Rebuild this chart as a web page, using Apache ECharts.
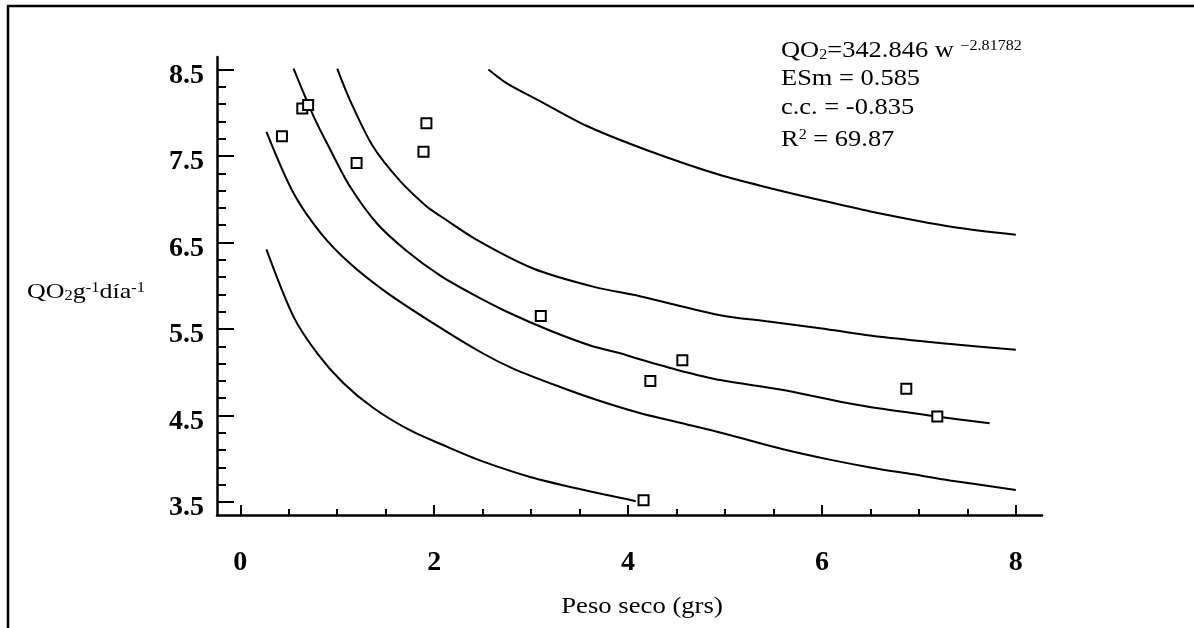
<!DOCTYPE html>
<html><head><meta charset="utf-8">
<script src="https://cdn.jsdelivr.net/npm/echarts@6/dist/echarts.min.js"></script>
<style>html,body{margin:0;padding:0;background:#fff}#c{width:1194px;height:628px}</style>
</head><body><div id="c"></div>
<script>
// Confidence-band style curves
const curve1 = [[0.27,6.42],[0.55,5.64],[0.80,5.21],[1.06,4.88],[1.37,4.59],[1.75,4.33],[2.13,4.14],[2.5,3.97],[2.99,3.79],[3.5,3.65],[4.08,3.51]];
const curve2 = [[0.27,7.78],[0.55,7.07],[0.83,6.61],[1.13,6.26],[1.5,5.93],[2.0,5.56],[2.5,5.22],[2.82,5.04],[3.3,4.83],[3.68,4.68],[4.12,4.53],[4.6,4.40],[5.0,4.29],[5.6,4.11],[6.08,3.99],[6.5,3.90],[6.94,3.82],[7.32,3.75],[8.0,3.64]];
const curve3 = [[0.55,8.51],[0.76,7.95],[0.93,7.57],[1.13,7.15],[1.41,6.72],[1.72,6.40],[2.06,6.12],[2.4,5.90],[2.75,5.70],[3.2,5.48],[3.61,5.31],[3.92,5.22],[4.12,5.15],[4.5,5.03],[4.95,4.91],[5.57,4.80],[6.19,4.66],[6.6,4.58],[7.18,4.49],[7.73,4.41]];
const curve4 = [[1.0,8.51],[1.13,8.15],[1.37,7.61],[1.65,7.21],[1.92,6.92],[2.06,6.81],[2.44,6.53],[3.02,6.20],[3.64,5.99],[4.12,5.88],[4.95,5.66],[5.43,5.59],[5.98,5.51],[6.6,5.41],[7.3,5.33],[8.0,5.26]];
const curve5 = [[2.56,8.50],[2.75,8.34],[3.1,8.13],[3.57,7.85],[4.19,7.57],[4.95,7.28],[5.5,7.12],[5.91,7.01],[6.5,6.86],[7.35,6.68],[8.0,6.59]];
// Observed points
const pesoSeco = [0.43,0.64,0.70,1.20,1.89,1.92,3.10,4.16,4.23,4.56,6.87,7.19];
const qo2 = [7.73,8.05,8.09,7.42,7.55,7.88,5.65,3.52,4.90,5.14,4.81,4.49];
// Ticks
const xTickLabels = [0,2,4,6,8];
const xMinorTicks = [0.5,1,1.5,2.5,3,3.5,4.5,5,5.5,6.5,7,7.5];
const yTickLabels = [3.5,4.5,5.5,6.5,7.5,8.5];
const yMinorTicks = [3.7,3.9,4.1,4.3,4.7,4.9,5.1,5.3,5.7,5.9,6.1,6.3,6.7,6.9,7.1,7.3,7.7,7.9,8.1,8.3];

const SERIF = '"Liberation Serif","Times New Roman",serif';
const chart = echarts.init(document.getElementById('c'), null, {renderer:'canvas'});
const lineSeries = [curve1,curve2,curve3,curve4,curve5].map(c => ({
  type:'line', data:c, xAxisIndex:0, yAxisIndex:0, showSymbol:false, smooth:0.3,
  lineStyle:{color:'#000', width:2}, silent:true, z:2
}));
const X = {min:-0.24, max:8.27};
const Y = {min:3.35, max:8.645};
chart.setOption({
  animation:false,
  backgroundColor:'#fff',
  grid:{left:217, right:152, top:57, bottom:113},
  xAxis:[
    {type:'value', position:'bottom', min:X.min, max:X.max, splitLine:{show:false},
     axisLine:{onZero:false, lineStyle:{color:'#000', width:2.5}},
     axisTick:{inside:true, length:10, customValues:xTickLabels, lineStyle:{color:'#000', width:2}},
     axisLabel:{customValues:xTickLabels, margin:34, color:'#000', fontFamily:SERIF, fontWeight:'bold', fontSize:28}},
    {type:'value', position:'bottom', offset:0, min:X.min, max:X.max, splitLine:{show:false},
     axisLine:{show:false, onZero:false},
     axisTick:{inside:true, length:6, customValues:xMinorTicks, lineStyle:{color:'#000', width:2}},
     axisLabel:{show:false}}
  ],
  yAxis:[
    {type:'value', position:'left', min:Y.min, max:Y.max, splitLine:{show:false},
     axisLine:{onZero:false, lineStyle:{color:'#000', width:2.5}},
     axisTick:{inside:true, length:17, customValues:yTickLabels, lineStyle:{color:'#000', width:2}},
     axisLabel:{customValues:yTickLabels, margin:13, color:'#000',
       formatter:v => '{a|' + v.toFixed(1) + '}',
       rich:{a:{fontFamily:SERIF, fontWeight:'bold', fontSize:28, color:'#000', padding:[12,0,0,0]}}}},
    {type:'value', position:'left', offset:0, min:Y.min, max:Y.max, splitLine:{show:false},
     axisLine:{show:false, onZero:false},
     axisTick:{inside:true, length:9, customValues:yMinorTicks, lineStyle:{color:'#000', width:2}},
     axisLabel:{show:false}}
  ],
  series: lineSeries.concat([{
    type:'scatter', xAxisIndex:0, yAxisIndex:0, z:5,
    data: pesoSeco.map((x,i)=>[x,qo2[i]]),
    symbol:'rect', symbolSize:10,
    itemStyle:{color:'#fff', borderColor:'#000', borderWidth:2, opacity:1}
  }]),
  graphic:[
    {type:'line', shape:{x1:8, y1:5, x2:8, y2:628}, style:{stroke:'#000', lineWidth:2.5}},
    {type:'line', shape:{x1:7, y1:6, x2:1194, y2:6}, style:{stroke:'#000', lineWidth:2.5}},
    {type:'text', x:781, y:51, scaleX:1.15, style:{text:'QO{sub|2}=342.846 w {sup|\u22122.81782}', fill:'#000', font:'23px '+SERIF, verticalAlign:'middle', lineHeight:23,
      rich:{sub:{fontSize:14, fontFamily:SERIF, verticalAlign:'bottom', lineHeight:23}, sup:{fontSize:14, fontFamily:SERIF, verticalAlign:'top', lineHeight:23}}}},
    {type:'text', x:781, y:79, scaleX:1.15, style:{text:'ESm = 0.585', fill:'#000', font:'23px '+SERIF, verticalAlign:'middle'}},
    {type:'text', x:781, y:107.5, scaleX:1.15, style:{text:'c.c. = -0.835', fill:'#000', font:'23px '+SERIF, verticalAlign:'middle'}},
    {type:'text', x:781, y:140, scaleX:1.15, style:{text:'R{sup|2} = 69.87', fill:'#000', font:'23px '+SERIF, verticalAlign:'middle', lineHeight:23,
      rich:{sup:{fontSize:14, fontFamily:SERIF, verticalAlign:'top', lineHeight:23}}}},
    {type:'text', x:27, y:292, scaleX:1.18, style:{text:'QO{sub|2}g{sup|-1}día{sup|-1}', fill:'#000', font:'22px '+SERIF, verticalAlign:'middle', lineHeight:22,
      rich:{sub:{fontSize:14, fontFamily:SERIF, verticalAlign:'bottom', lineHeight:22}, sup:{fontSize:14, fontFamily:SERIF, verticalAlign:'top', lineHeight:22}}}},
    {type:'text', x:642, y:607, scaleX:1.16, style:{text:'Peso seco (grs)', fill:'#000', font:'23px '+SERIF, align:'center', verticalAlign:'middle'}}
  ]
});
</script></body></html>
